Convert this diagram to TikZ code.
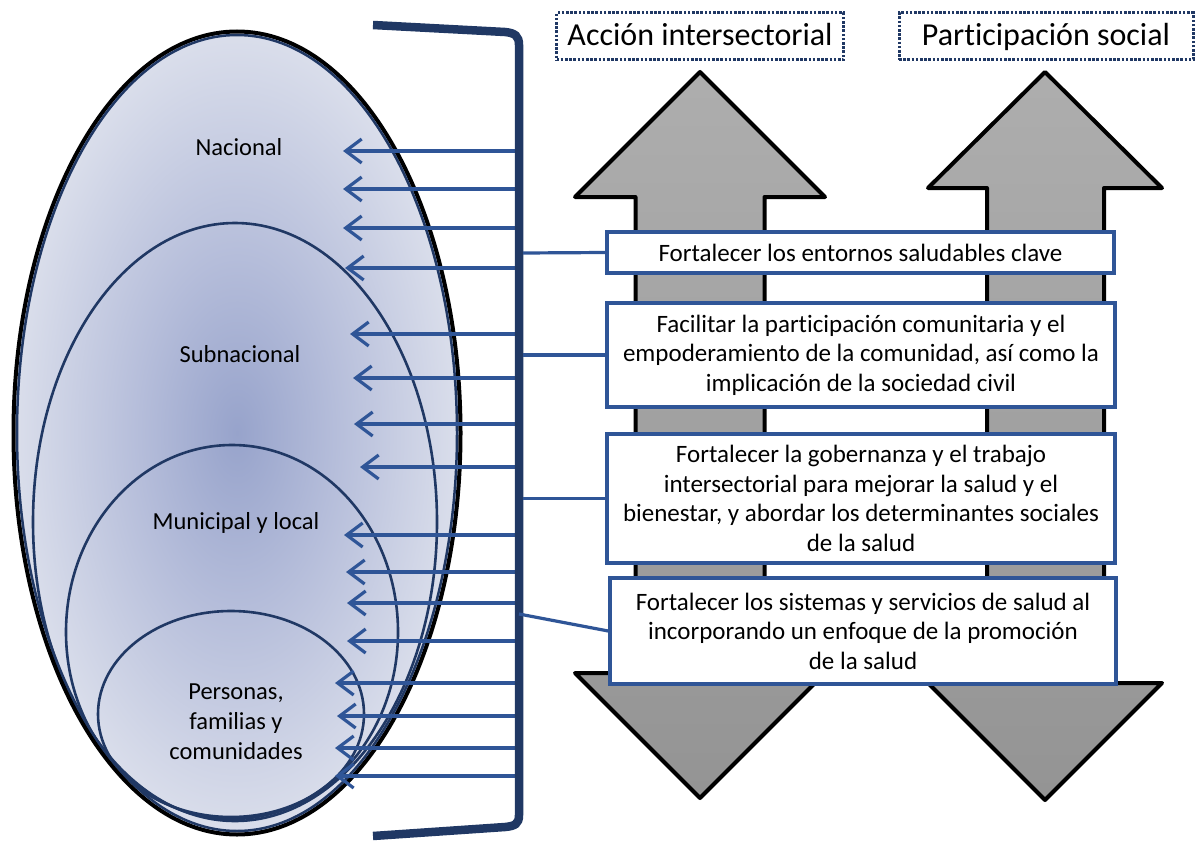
\documentclass[tikz,border=0pt]{standalone}
\usepackage{fontspec}
\setmainfont{Carlito}[Ligatures=NoCommon]
\usetikzlibrary{arrows.meta}
\definecolor{navy}{HTML}{203864}
\definecolor{arrblue}{HTML}{2F5597}
\definecolor{shin}{HTML}{97A3CB}
\definecolor{shmid}{HTML}{B5BDDA}
\definecolor{shout}{HTML}{DADEEB}
\pgfdeclareradialshading{eggshade}{\pgfpoint{0bp}{0bp}}{color(0bp)=(shin); color(11bp)=(shmid); color(25bp)=(shout); color(50bp)=(shout)}
\tikzset{
  arr/.style={draw=arrblue, line width=3.2pt, -{Straight Barb[length=16pt,width=24pt]}},
  conn/.style={draw=arrblue, line width=3.2pt},
  txtbox/.style={draw=arrblue, line width=3.5pt, fill=white, align=center, inner sep=0pt,
    font=\fontsize{25}{29.5}\selectfont, text=black},
  topbox/.style={draw=navy, line width=3pt, dash pattern=on 2.6pt off 1.6pt, align=center,
    inner sep=0pt, font=\fontsize{32}{36}\selectfont, text=black, text height=22pt, text depth=3pt},
  bigarrow/.style={draw=black, line width=4pt, line join=round, top color=black!32, bottom color=black!42},
  lvl/.style={draw=navy, line width=2.6pt},
  lbl/.style={align=center, font=\fontsize{24.5}{30}\selectfont, text=black, inner sep=0pt},
}
\begin{document}
\begin{tikzpicture}[x=1pt,y=-1pt]
\useasboundingbox (0,0) rectangle (1198,840);
% ellipses
\shade[shading=eggshade] (237,433) ellipse [x radius=222pt, y radius=400pt];
\draw[lvl] (235,522) ellipse [x radius=202pt, y radius=299pt];
\draw[lvl] (232,632) ellipse [x radius=166pt, y radius=187pt];
\draw[lvl] (231,714) ellipse [x radius=133pt, y radius=103pt];
\draw[black, line width=4pt] (237,433) ellipse [x radius=223.5pt, y radius=401.5pt];
\draw[navy, line width=2.5pt] (237,433) ellipse [x radius=220pt, y radius=398pt];
\node[lbl] (nac) at (239,147) {Nacional};
\node[lbl] (sub) at (240,354) {Subnacional};
\node[lbl] (mun) at (236,523) {Municipal y local};
\node[lbl] (per) at (236,722) {Personas,\\familias y\\comunidades};
% arrows
\foreach \yy/\xx [count=\i] in {151/343,189/343,228/343,268/345,334/350,378/353,424/354,467/360,535/344,572/346,603/347,641/347,683/335,716/337,748/335,776/335}{
  \coordinate (s\i) at (516,\yy);
  \coordinate (t\i) at (\xx,\yy);
  \draw[arr] (s\i) -- (t\i);
}
% bracket
\draw[navy, line width=8.5pt] (373,25) -- (505,32) .. controls (515,33) and (519,36) .. (519,45) -- (519,815) .. controls (519,824) and (515,826) .. (505,827) -- (373,836);
% big double arrows
\draw[bigarrow] (700,72) -- (825,197) -- (764.5,197) -- (764.5,673) -- (825,673) -- (700,798) -- (575,673) -- (635.5,673) -- (635.5,197) -- (575,197) -- cycle;
\draw[bigarrow] (1045,72) -- (1162,188) -- (1104,188) -- (1104,683) -- (1162,683) -- (1045,800) -- (928,683) -- (987,683) -- (987,188) -- (928,188) -- cycle;
% top labels
\node[topbox, minimum width=287pt, minimum height=47pt] (acc) at (700,36.5) {Acción intersectorial};
\node[topbox, minimum width=294pt, minimum height=47pt] (par) at (1046,36.5) {Participación social};
% boxes
\coordinate (c1) at (523,253);
\coordinate (c2) at (523,355);
\coordinate (c3) at (523,498.5);
\coordinate (c4) at (519,614);
\node[txtbox, minimum width=507pt, minimum height=41pt] (b1) at (860.5,252.5) {Fortalecer los entornos saludables clave};
\node[txtbox, minimum width=508pt, minimum height=104pt] (b2) at (861,355) {Facilitar la participación comunitaria y el\\empoderamiento de la comunidad, así como la\\implicación de la sociedad civil};
\node[txtbox, minimum width=508pt, minimum height=129pt] (b3) at (861,498.5) {Fortalecer la gobernanza y el trabajo\\intersectorial para mejorar la salud y el\\bienestar, y abordar los determinantes sociales\\de la salud};
\node[txtbox, minimum width=506pt, minimum height=106pt] (b4) at (863,631) {Fortalecer los sistemas y servicios de salud al\\incorporando un enfoque de la promoción\\de la salud};
\draw[conn] (c1) -- (b1.west);
\draw[conn] (c2) -- (b2.west);
\draw[conn] (c3) -- (b3.west);
\draw[conn] (c4) -- (b4.west);
\end{tikzpicture}
\end{document}
